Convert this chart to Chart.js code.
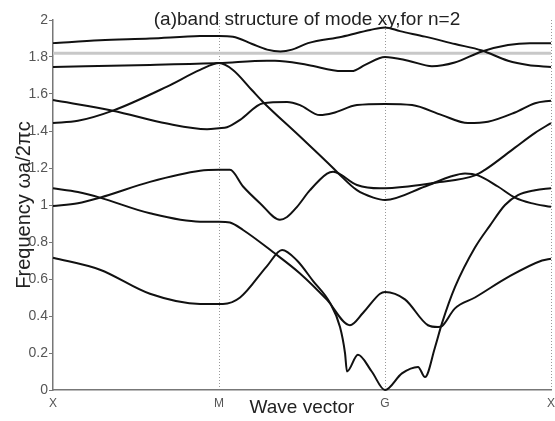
<!DOCTYPE html>
<html>
<head>
<meta charset="utf-8">
<script src="https://cdn.jsdelivr.net/npm/chart.js@4"></script>
<style>
  html, body { margin: 0; padding: 0; background: #fff; }
</style>
</head>
<body>
<canvas id="chart" width="555" height="421"></canvas>
<script>
// wave vector path X -> M -> G -> X, as 0..3
const kTicks = [0, 1, 2, 3];
const kLabels = ['X', 'M', 'G', 'X'];
const freqTicks = [0, 0.2, 0.4, 0.6, 0.8, 1, 1.2, 1.4, 1.6, 1.8, 2];

const chartTitle = '(a)band structure of mode xy,for n=2';
const xTitle = 'Wave vector';
const yTitle = 'Frequency ωa/2πc';

// bands as [k, frequency]
const band1 = [[0,1.875],[0.283,1.89],[0.584,1.90],[0.886,1.913],[1.0,1.914],[1.084,1.91],[1.2,1.87],[1.29,1.84],[1.37,1.83],[1.44,1.84],[1.536,1.875],[1.741,1.91],[1.91,1.946],[2.0,1.96],[2.09,1.94],[2.241,1.91],[2.422,1.87],[2.584,1.835],[2.741,1.78],[2.861,1.757],[3.0,1.746]];
const band2 = [[0,1.746],[0.584,1.757],[1.0,1.767],[1.289,1.78],[1.337,1.78],[1.536,1.757],[1.74,1.724],[1.80,1.724],[1.88,1.757],[2.0,1.80],[2.14,1.78],[2.283,1.75],[2.42,1.77],[2.584,1.83],[2.741,1.865],[2.873,1.875],[3.0,1.875]];
const band3 = [[0,1.567],[0.361,1.51],[0.687,1.44],[0.928,1.41],[1.0,1.415],[1.048,1.42],[1.127,1.46],[1.265,1.55],[1.41,1.557],[1.488,1.54],[1.608,1.486],[1.687,1.497],[1.831,1.54],[2.0,1.546],[2.163,1.54],[2.343,1.486],[2.5,1.443],[2.62,1.45],[2.783,1.50],[2.904,1.55],[3.0,1.564]];
const band4 = [[0,1.443],[0.15,1.455],[0.361,1.51],[0.687,1.64],[0.886,1.73],[1.0,1.767],[1.084,1.73],[1.199,1.62],[1.265,1.557],[1.488,1.37],[1.687,1.20],[1.72,1.17],[1.831,1.08],[1.93,1.04],[2.0,1.027],[2.241,1.10],[2.40,1.155],[2.482,1.17],[2.56,1.16],[2.68,1.10],[2.783,1.04],[2.88,1.01],[3.0,0.99]];
const band5 = [[0,0.995],[0.15,1.01],[0.283,1.04],[0.584,1.125],[0.886,1.185],[1.0,1.19],[1.066,1.19],[1.145,1.10],[1.247,1.01],[1.367,0.92],[1.41,0.935],[1.47,0.99],[1.548,1.08],[1.651,1.17],[1.687,1.18],[1.831,1.108],[1.97,1.09],[2.139,1.10],[2.30,1.12],[2.542,1.16],[2.602,1.19],[2.783,1.31],[2.904,1.39],[3.0,1.443]];
const band6 = [[0,1.09],[0.15,1.07],[0.283,1.04],[0.584,0.955],[0.886,0.91],[1.0,0.91],[1.066,0.905],[1.145,0.865],[1.325,0.746],[1.488,0.63],[1.651,0.487],[1.789,0.35],[1.867,0.416],[1.97,0.52],[2.0,0.53],[2.12,0.49],[2.259,0.35],[2.32,0.34],[2.343,0.345],[2.42,0.44],[2.542,0.50],[2.741,0.61],[2.946,0.70],[3.0,0.71]];
const band7 = [[0,0.715],[0.283,0.65],[0.584,0.52],[0.886,0.465],[1.0,0.465],[1.024,0.465],[1.127,0.50],[1.289,0.67],[1.38,0.757],[1.47,0.70],[1.566,0.59],[1.669,0.47],[1.729,0.34],[1.759,0.20],[1.771,0.10],[1.837,0.19],[1.92,0.10],[2.0,0.0],[2.102,0.09],[2.199,0.125],[2.241,0.07],[2.301,0.23],[2.343,0.36],[2.422,0.557],[2.542,0.77],[2.633,0.89],[2.723,1.0],[2.801,1.054],[2.904,1.08],[3.0,1.09]];
// grey reference line
const refLine = [[0,1.82],[3,1.82]];

const bands = [band1, band2, band3, band4, band5, band6, band7];

const datasets = bands.map(b => ({
    data: b.map(p => ({x: p[0], y: p[1]})),
    borderColor: '#111',
    borderWidth: 2,
    pointRadius: 0,
    cubicInterpolationMode: 'monotone',
    clip: 4
}));
datasets.push({
    data: refLine.map(p => ({x: p[0], y: p[1]})),
    borderColor: '#c8c8c8',
    borderWidth: 3,
    pointRadius: 0
});

const titlePlugin = {
    id: 'plotTitle',
    afterDraw(chart) {
        const {ctx, chartArea} = chart;
        ctx.save();
        ctx.font = '19px Arial, "Liberation Sans", sans-serif';
        ctx.fillStyle = '#222';
        ctx.textAlign = 'center';
        ctx.textBaseline = 'middle';
        ctx.fillText(chartTitle, (chartArea.left + chartArea.right) / 2 + 5, 20);
        ctx.restore();
    }
};

new Chart(document.getElementById('chart'), {
    type: 'line',
    data: { datasets },
    options: {
        responsive: false,
        animation: false,
        layout: { padding: { left: 0, right: 4, top: 20, bottom: 0 } },
        plugins: { legend: { display: false }, tooltip: { enabled: false } },
        scales: {
            x: {
                type: 'linear',
                min: 0,
                max: 3,
                afterBuildTicks: s => { s.ticks = kTicks.map(v => ({ value: v })); },
                afterFit: s => {
                    s.height = 31;
                    s.paddingLeft = 0;
                    s.paddingRight = 0;
                },
                grid: {
                    drawTicks: false,
                    color: ctx => ctx.index === 0 ? 'rgba(0,0,0,0)' : '#999',
                    lineWidth: 1
                },
                border: { color: '#777', width: 1.5, dash: [1, 2] },
                ticks: {
                    callback: v => kLabels[kTicks.indexOf(v)],
                    color: '#555',
                    font: { size: 12, family: 'Arial, "Liberation Sans", sans-serif' },
                    padding: 6,
                    maxRotation: 0,
                    autoSkip: false
                },
                title: {
                    display: true,
                    text: xTitle,
                    color: '#222',
                    font: { size: 19, family: 'Arial, "Liberation Sans", sans-serif' },
                    padding: { top: 0, bottom: 2 }
                }
            },
            y: {
                min: 0,
                max: 2,
                afterBuildTicks: s => { s.ticks = freqTicks.map(v => ({ value: v })); },
                afterFit: s => {
                    s.width = 53;
                    s.paddingTop = 0;
                    s.paddingBottom = 0;
                },
                grid: {
                    drawOnChartArea: false,
                    drawTicks: true,
                    tickLength: 4,
                    color: '#777'
                },
                border: { color: '#777', width: 1.5 },
                ticks: {
                    callback: v => String(+v.toFixed(1)),
                    color: '#555',
                    font: { size: 14, family: 'Arial, "Liberation Sans", sans-serif' },
                    padding: 1
                },
                title: {
                    display: true,
                    text: yTitle,
                    color: '#222',
                    font: { size: 20, family: 'Arial, "Liberation Sans", sans-serif' },
                    padding: { top: 12, bottom: 0 }
                }
            }
        }
    },
    plugins: [titlePlugin]
});
</script>
</body>
</html>
